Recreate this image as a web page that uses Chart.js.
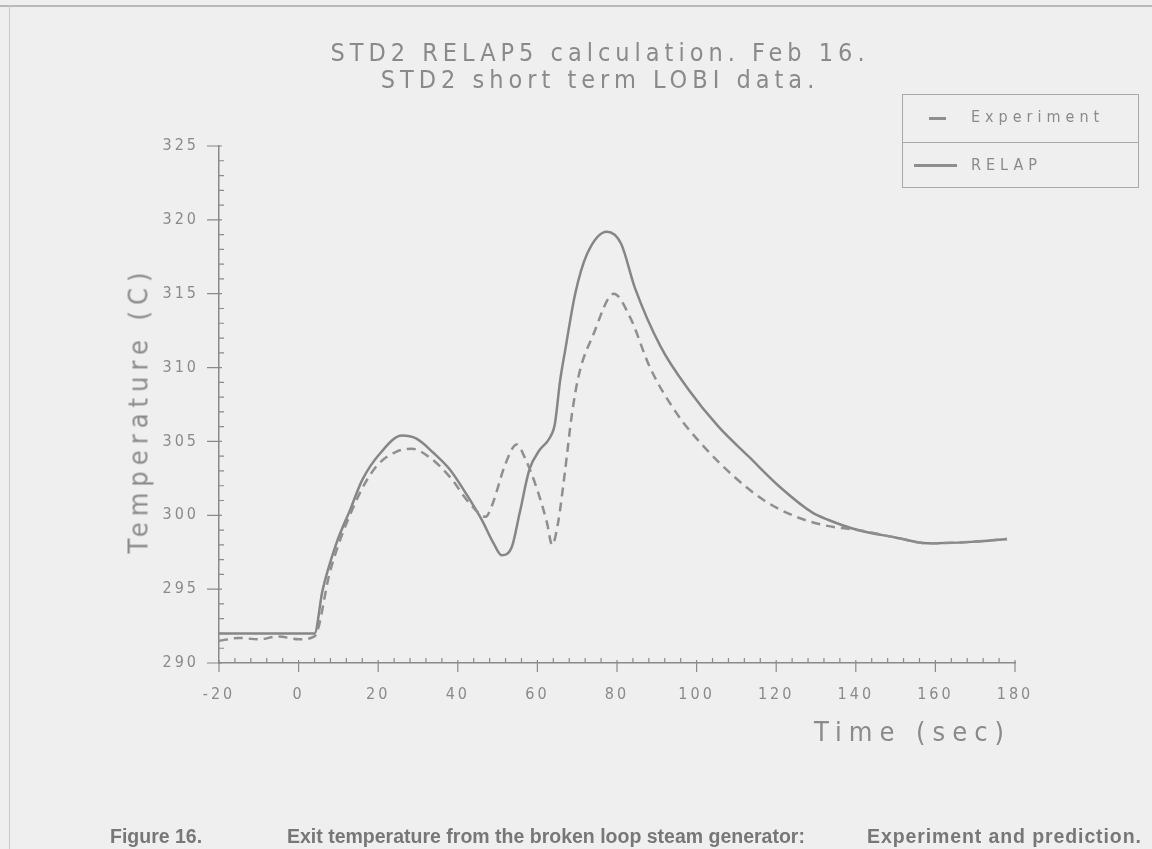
<!DOCTYPE html>
<html>
<head>
<meta charset="utf-8">
<script src="https://cdn.jsdelivr.net/npm/chart.js@4.4.1/dist/chart.umd.min.js"></script>
<style>
  body {
    margin: 0;
    width: 1152px;
    height: 849px;
    overflow: hidden;
    position: relative;
    background: #efefef;
    color: #8a8a8a;
    font-family: 'DejaVu Sans Condensed', 'Liberation Sans Narrow', 'DejaVu Sans', sans-serif;
  }
  #chart { position: absolute; left: 0; top: 0; }
  .txt { position: absolute; white-space: nowrap; }
  .title { left: 0; width: 1200px; text-align: center; font-size: 25px; letter-spacing: 5px; }
  #legend {
    position: absolute; left: 902px; top: 94px; width: 237px; height: 94px;
    border: 1px solid #a8a8a8; box-sizing: border-box;
    font-size: 16px; letter-spacing: 5px;
  }
  #legend .row { position: absolute; left: 0; width: 100%; height: 47px; }
  #legend .row + .row { top: 47px; border-top: 1px solid #a8a8a8; }
  #legend .sample { position: absolute; top: 22px; height: 0; border-top: 3px solid #8e8e8e; }
  #legend .label { position: absolute; left: 68px; top: 12px; }
  .axis-title { font-size: 27px; letter-spacing: 6px; }
  #ytitle { left: 138px; top: 410px; transform: translate(-50%, -50%) rotate(-90deg); }
  #xtitle { left: 814px; top: 716px; letter-spacing: 7px; }
  .caption { top: 825px; font-family: 'Liberation Sans', Arial, sans-serif; font-weight: bold; font-size: 19.5px; color: #777777; }
  .scan-line { position: absolute; background: #b9b9b9; }
</style>
</head>
<body>
<div class="scan-line" style="left:0;top:5px;width:1152px;height:2px"></div>
<div class="scan-line" style="left:9px;top:5px;width:1px;height:844px;background:#c9c9c9"></div>

<canvas id="chart" width="1152" height="849"></canvas>

<div class="txt title" style="top:38px">STD2 RELAP5 calculation. Feb 16.</div>
<div class="txt title" style="top:65px">STD2 short term LOBI data.</div>

<div id="legend">
  <div class="row">
    <div class="sample" style="left:26px;width:17px"></div>
    <div class="label">Experiment</div>
  </div>
  <div class="row">
    <div class="sample" style="left:11px;width:43px;top:21px"></div>
    <div class="label">RELAP</div>
  </div>
</div>

<div class="txt axis-title" id="ytitle">Temperature (C)</div>
<div class="txt axis-title" id="xtitle">Time (sec)</div>

<div class="txt caption" style="left:110px">Figure 16.</div>
<div class="txt caption" style="left:287px">Exit temperature from the broken loop steam generator:</div>
<div class="txt caption" style="left:867px;letter-spacing:0.9px">Experiment and prediction.</div>

<script>
// time in seconds, temperature in degrees C
const expTime = [-20, -15, -10, -5, 0, 4, 8, 14.5, 19.5, 24.5, 28.5, 33, 38, 43, 47, 48.5, 52, 54.8, 57, 60, 62.4, 63.7, 65.2, 66.9, 68.7, 70.5, 74, 79.2, 83.3, 88.3, 95, 102, 109.5, 117, 125, 132.5, 140.5, 150, 158, 169, 178];
const expTemp = [291.5, 291.7, 291.6, 291.8, 291.6, 291.8, 296.3, 301.0, 303.3, 304.3, 304.5, 303.9, 302.6, 300.8, 299.9, 300.6, 303.5, 304.8, 303.8, 301.7, 299.5, 298.0, 299.5, 302.9, 306.9, 309.6, 312.2, 315.0, 313.4, 310.0, 306.9, 304.6, 302.6, 301.0, 299.9, 299.3, 299.0, 298.5, 298.1, 298.2, 298.4];

const relapTime = [-20, 4, 6, 9.5, 13, 16, 20.5, 26, 29.5, 34, 38, 42, 46, 49, 51, 53.5, 55.5, 58, 60.5, 63, 64.4, 65.7, 67, 69.5, 72.5, 77.5, 81, 84.5, 91, 98, 105.5, 113, 121, 129, 133, 140.5, 150, 158, 169, 178];
const relapTemp = [292.0, 292.0, 294.9, 298.1, 300.4, 302.4, 304.2, 305.4, 305.2, 304.2, 303.1, 301.5, 299.7, 298.1, 297.3, 297.8, 300.1, 303.1, 304.4, 305.2, 306.2, 309.1, 311.2, 315.0, 317.7, 319.2, 318.4, 315.4, 311.4, 308.5, 306.0, 304.0, 301.9, 300.2, 299.7, 299.0, 298.5, 298.1, 298.2, 298.4];

const xMin = -20, xMax = 180, xStep = 20;
const yMin = 290, yMax = 325, yStep = 5;

const inkColor = '#8a8a8a';
const plotFont = "'DejaVu Sans Condensed', 'Liberation Sans Narrow', 'DejaVu Sans', sans-serif";

function toPoints(xs, ys) {
  return xs.map((x, i) => ({ x: x, y: ys[i] }));
}

// plotter style tick marks: major + minor, drawn through the scales
const plotterTicks = {
  id: 'plotterTicks',
  beforeDraw(chart) {
    chart.ctx.letterSpacing = '3px';
  },
  afterDraw(chart) {
    const { ctx, chartArea, scales } = chart;
    ctx.save();
    ctx.strokeStyle = inkColor;
    ctx.lineWidth = 1.2;
    ctx.beginPath();
    for (let v = yMin; v <= yMax; v++) {
      const y = scales.y.getPixelForValue(v);
      const major = v % yStep === 0;
      ctx.moveTo(chartArea.left - (major ? 12 : 0), y);
      ctx.lineTo(chartArea.left + (major ? 3 : 5), y);
    }
    for (let t = xMin; t <= xMax; t += 4) {
      const x = scales.x.getPixelForValue(t);
      const major = (t - xMin) % xStep === 0;
      ctx.moveTo(x, chartArea.bottom + (major ? 9 : 0));
      ctx.lineTo(x, chartArea.bottom - (major ? 3 : 5));
    }
    ctx.stroke();
    ctx.restore();
  }
};

const ctx = document.getElementById('chart').getContext('2d');
new Chart(ctx, {
  type: 'line',
  data: {
    datasets: [
      {
        label: 'Experiment',
        data: toPoints(expTime, expTemp),
        borderColor: '#8f8f8f',
        borderWidth: 2.5,
        borderDash: [9, 6],
        pointRadius: 0,
        cubicInterpolationMode: 'monotone',
      },
      {
        label: 'RELAP',
        data: toPoints(relapTime, relapTemp),
        borderColor: '#868686',
        borderWidth: 2.5,
        pointRadius: 0,
        cubicInterpolationMode: 'monotone',
      },
    ],
  },
  options: {
    responsive: false,
    animation: false,
    devicePixelRatio: 1,
    layout: {
      padding: { left: 0, top: 146, right: 137, bottom: 126 },
    },
    plugins: {
      legend: { display: false },
      tooltip: { enabled: false },
    },
    scales: {
      x: {
        type: 'linear',
        min: xMin,
        max: xMax,
        afterFit: (scale) => { scale.height = 60; },
        grid: { display: false, drawTicks: false },
        border: { color: inkColor, width: 1.5 },
        ticks: {
          stepSize: xStep,
          padding: 22,
          color: inkColor,
          font: { family: plotFont, size: 16 },
        },
      },
      y: {
        min: yMin,
        max: yMax,
        afterFit: (scale) => { scale.width = 219; },
        grid: { display: false, drawTicks: false },
        border: { color: inkColor, width: 1.5 },
        ticks: {
          stepSize: yStep,
          padding: 20,
          color: inkColor,
          font: { family: plotFont, size: 16 },
        },
      },
    },
  },
  plugins: [plotterTicks],
});
</script>
</body>
</html>
